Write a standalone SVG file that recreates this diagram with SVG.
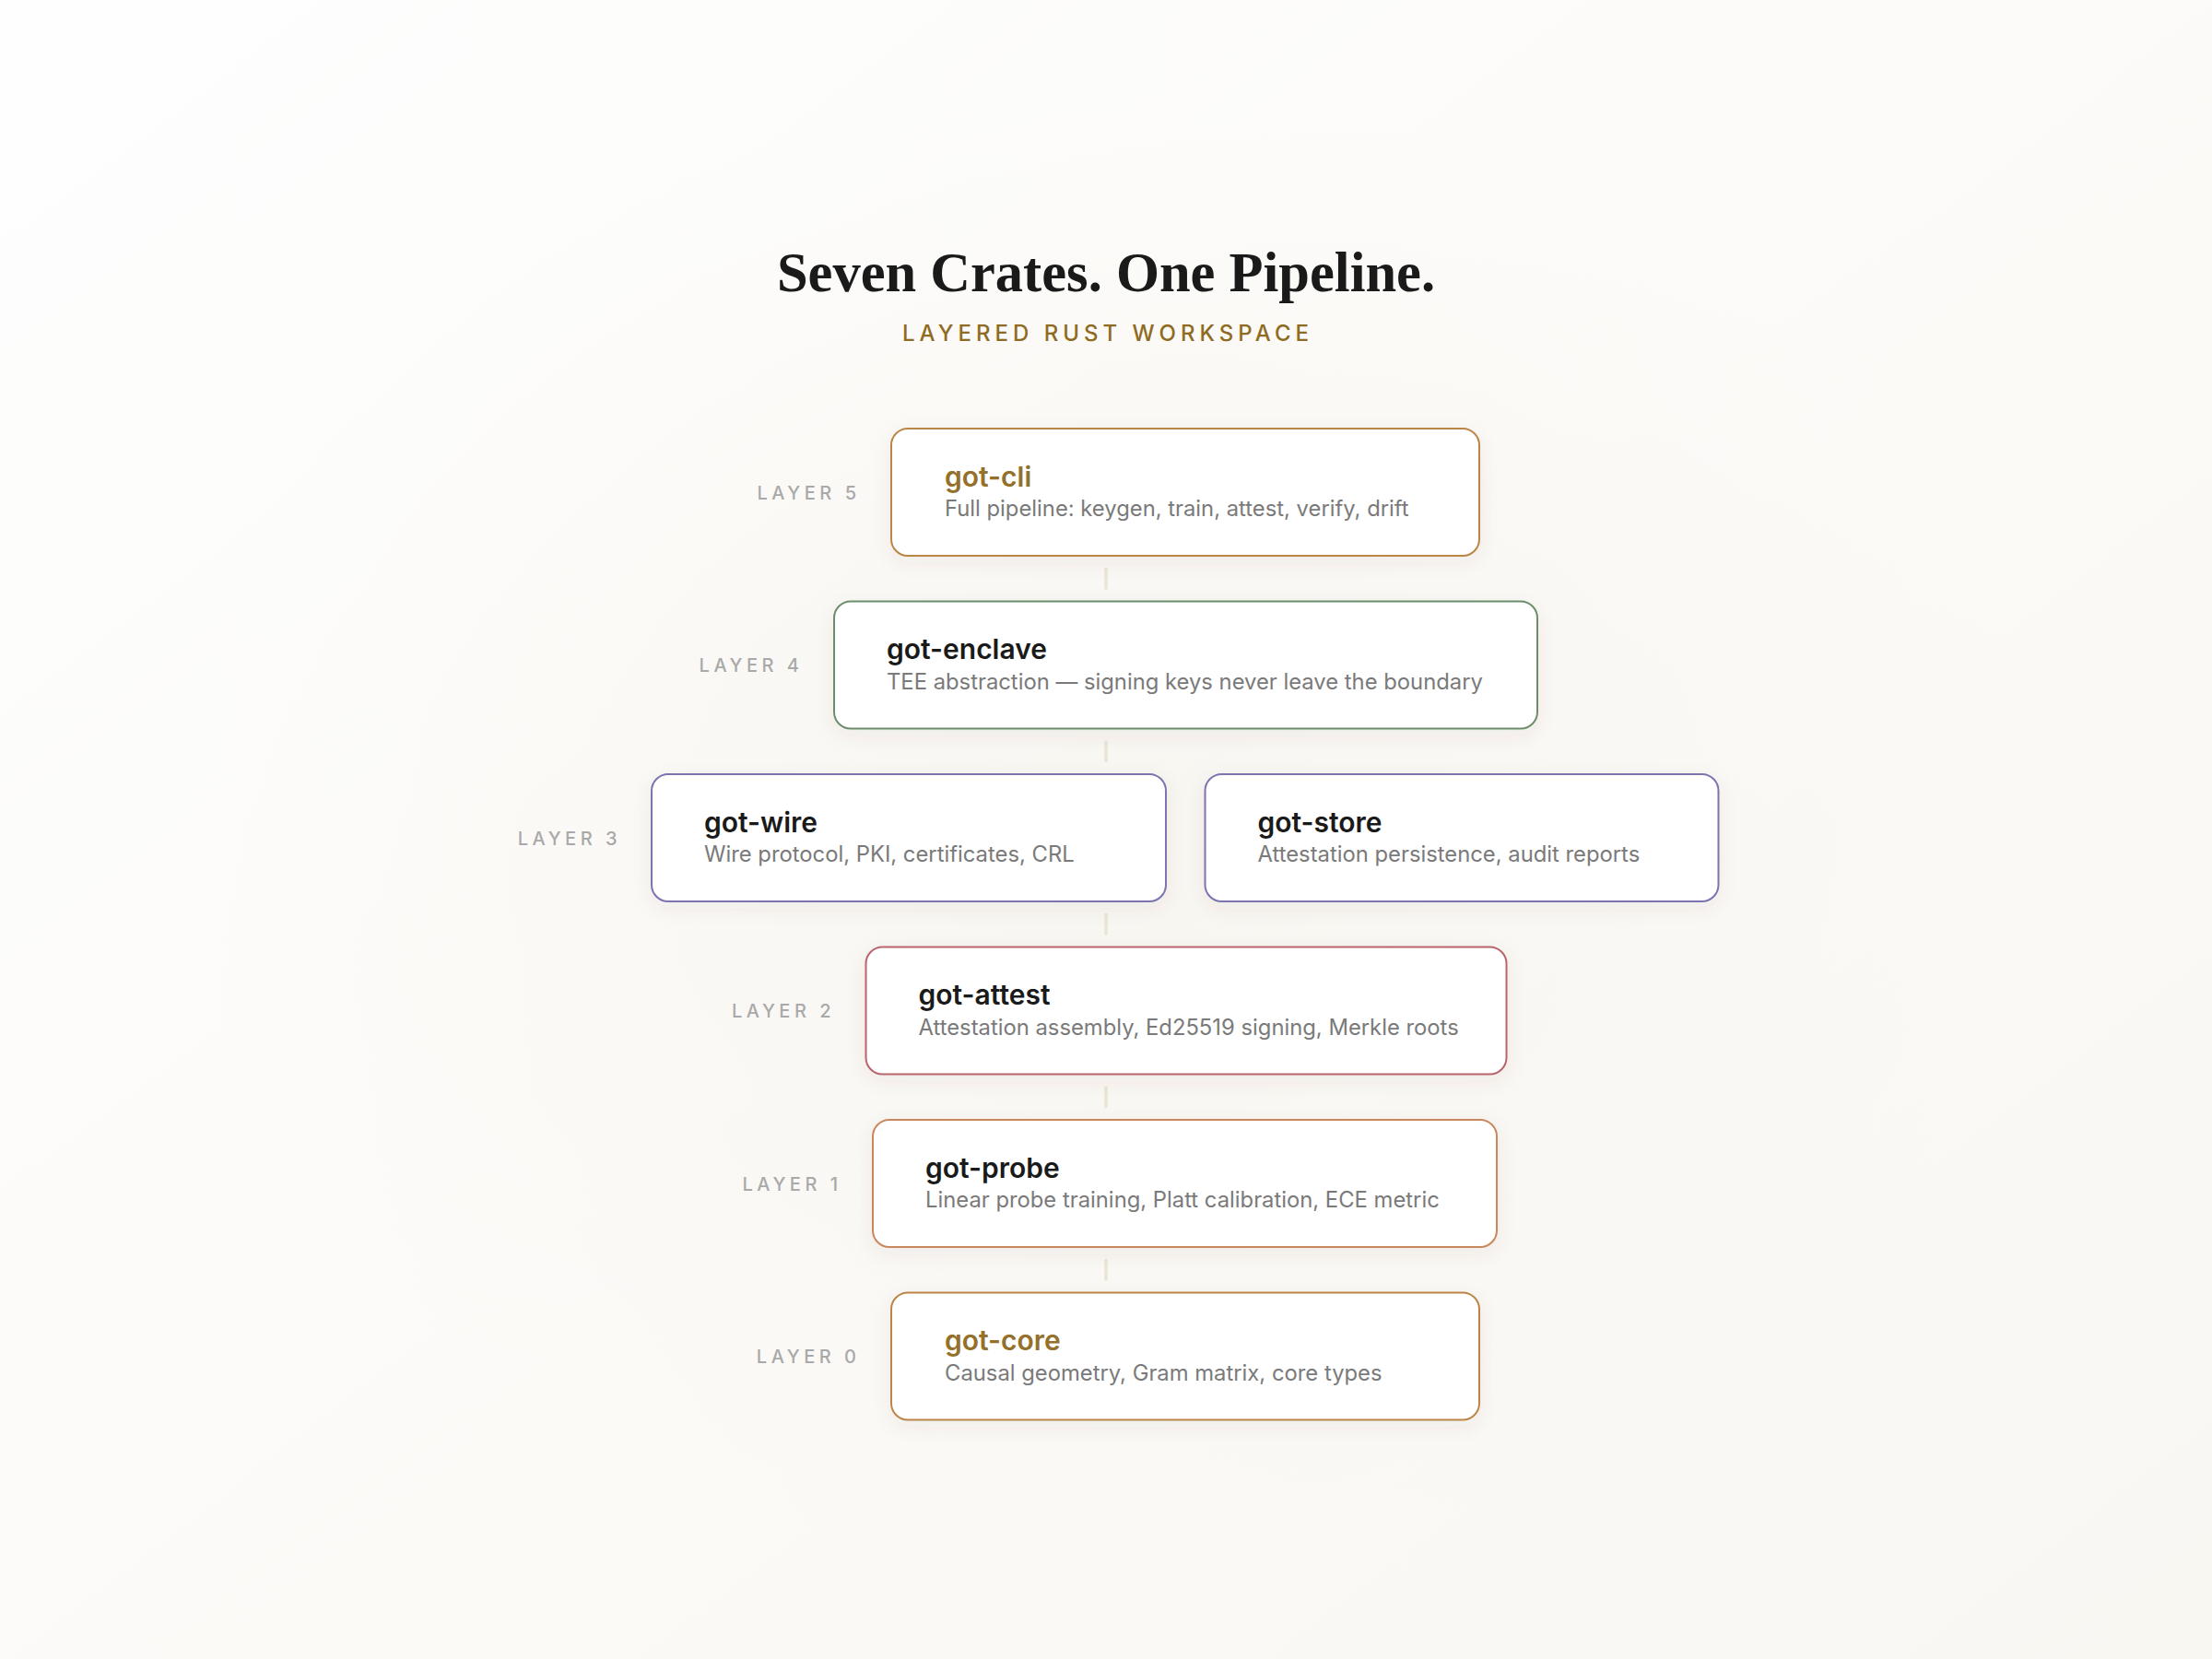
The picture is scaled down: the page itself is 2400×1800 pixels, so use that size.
<svg xmlns="http://www.w3.org/2000/svg" width="2400" height="1800" viewBox="0 0 2400 1800">
  <defs>
    <linearGradient id="bg" x1="0" y1="0" x2="1" y2="1">
      <stop offset="0" stop-color="#fefefe"/>
      <stop offset="1" stop-color="#f9f7f2"/>
    </linearGradient>
    <radialGradient id="glow" cx="0.5" cy="0.5" r="0.5">
      <stop offset="0" stop-color="#f6f3ec" stop-opacity="0.6"/>
      <stop offset="1" stop-color="#f6f3ec" stop-opacity="0"/>
    </radialGradient>
    <filter id="shadow" x="-10%" y="-20%" width="120%" height="150%">
      <feDropShadow dx="0" dy="6" stdDeviation="10" flood-color="#5a4a30" flood-opacity="0.07"/>
    </filter>
    <style>
      .box { fill: #ffffff; stroke-width: 2; filter: url(#shadow); }
      .gold { stroke: #bb8645; }
      .orange { stroke: #c8875c; }
      .green { stroke: #6b8e6b; }
      .purple { stroke: #7d73b1; }
      .red { stroke: #b9646c; }
      .name { font-family: Inter, "Liberation Sans", sans-serif; font-size: 30px; font-weight: 600; fill: #1a1a1a; }
      .name.accent { fill: #94702a; }
      .desc { font-family: Inter, "Liberation Sans", sans-serif; font-size: 23.8px; font-weight: 400; fill: #7a7a7a; }
      .layer { font-family: Inter, "Liberation Sans", sans-serif; font-size: 20px; font-weight: 500; fill: #a9a9a9; letter-spacing: 4.5px; text-anchor: end; }
      .conn { stroke: #ece4d6; stroke-width: 3.5; }
    </style>
  </defs>
  <rect width="2400" height="1800" fill="url(#bg)"/>
  <ellipse cx="1200" cy="900" rx="1000" ry="800" fill="url(#glow)"/>

  <g id="title">
    <text x="1200" y="316" text-anchor="middle" font-family="'Liberation Serif', 'DejaVu Serif', serif" font-weight="700" font-size="60.5" fill="#1a1a1a">Seven Crates. One Pipeline.</text>
    <text x="1202" y="369.5" text-anchor="middle" font-family="Inter, 'Liberation Sans', sans-serif" font-weight="500" font-size="24" letter-spacing="5" fill="#8f6b22">LAYERED RUST WORKSPACE</text>
  </g>

  <g id="connectors">
    <line class="conn" x1="1200" y1="616" x2="1200" y2="639.5"/>
    <line class="conn" x1="1200" y1="803.5" x2="1200" y2="827"/>
    <line class="conn" x1="1200" y1="991" x2="1200" y2="1014.5"/>
    <line class="conn" x1="1200" y1="1178.5" x2="1200" y2="1202"/>
    <line class="conn" x1="1200" y1="1366" x2="1200" y2="1389.5"/>
  </g>

  <g id="layer-labels">
    <text class="layer" x="933.5" y="541.5">LAYER 5</text>
    <text class="layer" x="871.5" y="729">LAYER 4</text>
    <text class="layer" x="674" y="917">LAYER 3</text>
    <text class="layer" x="906" y="1104">LAYER 2</text>
    <text class="layer" x="913.5" y="1291.5">LAYER 1</text>
    <text class="layer" x="933.5" y="1479">LAYER 0</text>
  </g>

  <g id="got-cli">
    <rect class="box gold" x="967" y="465" width="638" height="138" rx="18"/>
    <text class="name accent" x="1025" y="527.5">got-cli</text>
    <text class="desc" x="1025" y="560">Full pipeline: keygen, train, attest, verify, drift</text>
  </g>

  <g id="got-enclave">
    <rect class="box green" x="905" y="652.5" width="763" height="138" rx="18"/>
    <text class="name" x="962" y="715">got-enclave</text>
    <text class="desc" x="962" y="747.5">TEE abstraction — signing keys never leave the boundary</text>
  </g>

  <g id="got-wire">
    <rect class="box purple" x="707" y="840" width="558" height="138" rx="18"/>
    <text class="name" x="764" y="902.5">got-wire</text>
    <text class="desc" x="764" y="935">Wire protocol, PKI, certificates, CRL</text>
  </g>

  <g id="got-store">
    <rect class="box purple" x="1307.5" y="840" width="557" height="138" rx="18"/>
    <text class="name" x="1364.5" y="902.5">got-store</text>
    <text class="desc" x="1364.5" y="935">Attestation persistence, audit reports</text>
  </g>

  <g id="got-attest">
    <rect class="box red" x="939.5" y="1027.5" width="695" height="138" rx="18"/>
    <text class="name" x="996.5" y="1090">got-attest</text>
    <text class="desc" x="996.5" y="1122.5">Attestation assembly, Ed25519 signing, Merkle roots</text>
  </g>

  <g id="got-probe">
    <rect class="box orange" x="947" y="1215" width="677" height="138" rx="18"/>
    <text class="name" x="1004" y="1277.5">got-probe</text>
    <text class="desc" x="1004" y="1310">Linear probe training, Platt calibration, ECE metric</text>
  </g>

  <g id="got-core">
    <rect class="box gold" x="967" y="1402.5" width="638" height="138" rx="18"/>
    <text class="name accent" x="1025" y="1465">got-core</text>
    <text class="desc" x="1025" y="1497.5">Causal geometry, Gram matrix, core types</text>
  </g>
</svg>
